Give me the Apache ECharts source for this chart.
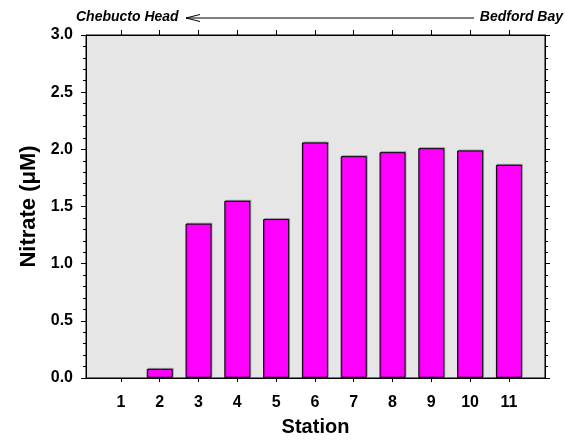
<!DOCTYPE html>
<html>
<head>
<meta charset="utf-8">
<script src="https://cdn.jsdelivr.net/npm/echarts@6/dist/echarts.min.js"></script>
<style>
  html, body { margin: 0; padding: 0; background: #fff; }
  #chart { width: 565px; height: 445px; }
</style>
</head>
<body>
<div id="chart"></div>
<script>
// nitrate per station (station 1: no bar drawn)
const stations = [1, 2, 3, 4, 5, 6, 7, 8, 9, 10, 11];
const nitrate = [null, 0.08, 1.35, 1.55, 1.39, 2.06, 1.94, 1.975, 2.01, 1.99, 1.865];
const yTicks = [0, 0.5, 1.0, 1.5, 2.0, 2.5, 3.0];

const FONT = 'Arial, "Liberation Sans", sans-serif';
const BLACK = '#000';

const chart = echarts.init(document.getElementById('chart'));

const sideAxisX = (position, withLabels) => ({
    type: 'value',
    position: position,
    min: 0.1,
    max: 11.93,
    splitLine: { show: false },
    axisLine: { show: true, onZero: false, lineStyle: { color: BLACK, width: 1 } },
    axisTick: {
        show: true, inside: false, length: position === 'top' ? 5 : 4,
        customValues: stations,
        lineStyle: { color: BLACK }
    },
    axisLabel: {
        show: withLabels,
        customValues: stations,
        margin: 17,
        color: BLACK,
        fontFamily: FONT,
        fontWeight: 'bold',
        fontSize: 16
    }
});

const sideAxisY = (position, withLabels) => ({
    type: 'value',
    position: position,
    min: yTicks[0],
    max: yTicks[yTicks.length - 1],
    interval: 0.5,
    splitLine: { show: false },
    axisLine: { show: true, onZero: false, lineStyle: { color: BLACK, width: 1 } },
    axisTick: { show: true, inside: false, length: 5, lineStyle: { color: BLACK } },
    minorTick: { show: true, splitNumber: 5, length: 3, lineStyle: { color: BLACK } },
    axisLabel: {
        show: withLabels,
        margin: 13,
        color: BLACK,
        fontFamily: FONT,
        fontWeight: 'bold',
        fontSize: 16,
        formatter: (v) => v.toFixed(1)
    }
});

const xBottom = sideAxisX('bottom', true);
xBottom.name = 'Station';
xBottom.nameLocation = 'middle';
xBottom.nameGap = 39;
xBottom.nameTextStyle = { color: BLACK, fontFamily: FONT, fontWeight: 'bold', fontSize: 20 };

const yLeft = sideAxisY('left', true);
yLeft.name = 'Nitrate (\u03bcM)';
yLeft.nameLocation = 'middle';
yLeft.nameGap = 45;
yLeft.nameTextStyle = { color: BLACK, fontFamily: FONT, fontWeight: 'bold', fontSize: 22 };

chart.setOption({
    animation: false,
    backgroundColor: '#fff',
    grid: {
        left: 86, right: 20, top: 35, bottom: 67,
        show: true,
        backgroundColor: '#e6e6e6',
        borderColor: BLACK,
        borderWidth: 1
    },
    xAxis: [xBottom, sideAxisX('top', false)],
    yAxis: [yLeft, sideAxisY('right', false)],
    series: [{
        type: 'bar',
        xAxisIndex: 0,
        yAxisIndex: 0,
        barWidth: 26,
        data: stations.map((s, i) => [s, nitrate[i]]),
        itemStyle: {
            color: '#ff00ff',
            borderColor: BLACK,
            borderWidth: 1,
            shadowColor: 'rgba(0,0,0,0.25)',
            shadowOffsetX: 1,
            shadowOffsetY: -1
        }
    }],
    graphic: [
        {
            type: 'text', left: 76, top: 10,
            style: { text: 'Chebucto Head', fill: BLACK, font: 'italic bold 14px ' + FONT }
        },
        {
            type: 'text', right: 2, top: 10,
            style: { text: 'Bedford Bay', fill: BLACK, font: 'italic bold 14px ' + FONT }
        },
        {
            type: 'polyline',
            shape: { points: [[200, 14.5], [186, 18], [200, 21.5]] },
            style: { stroke: BLACK, lineWidth: 1, fill: null }
        },
        {
            type: 'line',
            shape: { x1: 186, y1: 18, x2: 474, y2: 18 },
            style: { stroke: BLACK, lineWidth: 1 }
        }
    ]
});
</script>
</body>
</html>
